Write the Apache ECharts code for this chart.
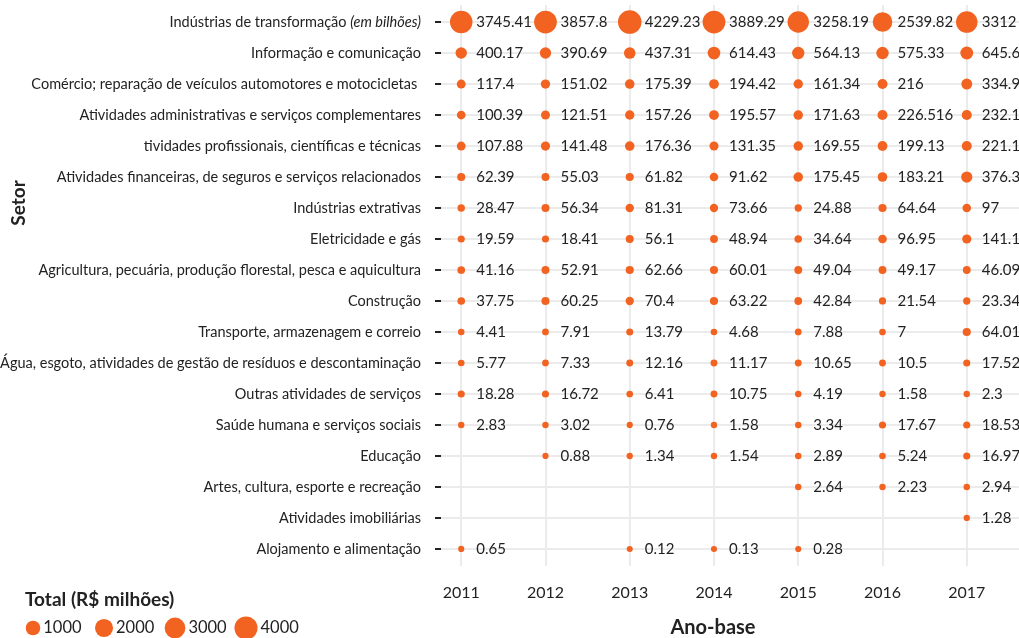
<!DOCTYPE html>
<html>
<head>
<meta charset="utf-8">
<script src="https://cdn.jsdelivr.net/npm/echarts@6/dist/echarts.min.js"></script>
<style>
  html, body { margin: 0; padding: 0; background: #ffffff; }
  #chart { width: 1019px; height: 638px; }
</style>
</head>
<body>
<div id="chart"></div>
<script>
// Ano-base (x) and setores (y, top to bottom)
const years = [2011, 2012, 2013, 2014, 2015, 2016, 2017];
const sectors = [
  'Indústrias de transformação',
  'Informação e comunicação',
  'Comércio; reparação de veículos automotores e motocicletas ',
  'Atividades administrativas e serviços complementares',
  'tividades profissionais, científicas e técnicas',
  'Atividades financeiras, de seguros e serviços relacionados',
  'Indústrias extrativas',
  'Eletricidade e gás',
  'Agricultura, pecuária, produção florestal, pesca e aquicultura',
  'Construção',
  'Transporte, armazenagem e correio',
  'Água, esgoto, atividades de gestão de resíduos e descontaminação',
  'Outras atividades de serviços',
  'Saúde humana e serviços sociais',
  'Educação',
  'Artes, cultura, esporte e recreação',
  'Atividades imobiliárias',
  'Alojamento e alimentação'
];

// Total (R$ milhões) per setor, one array per ano-base (null = sem valor)
const v2011 = [3745.41, 400.17, 117.4, 100.39, 107.88, 62.39, 28.47, 19.59, 41.16, 37.75, 4.41, 5.77, 18.28, 2.83, null, null, null, 0.65];
const v2012 = [3857.8, 390.69, 151.02, 121.51, 141.48, 55.03, 56.34, 18.41, 52.91, 60.25, 7.91, 7.33, 16.72, 3.02, 0.88, null, null, null];
const v2013 = [4229.23, 437.31, 175.39, 157.26, 176.36, 61.82, 81.31, 56.1, 62.66, 70.4, 13.79, 12.16, 6.41, 0.76, 1.34, null, null, 0.12];
const v2014 = [3889.29, 614.43, 194.42, 195.57, 131.35, 91.62, 73.66, 48.94, 60.01, 63.22, 4.68, 11.17, 10.75, 1.58, 1.54, null, null, 0.13];
const v2015 = [3258.19, 564.13, 161.34, 171.63, 169.55, 175.45, 24.88, 34.64, 49.04, 42.84, 7.88, 10.65, 4.19, 3.34, 2.89, 2.64, null, 0.28];
const v2016 = [2539.82, 575.33, 216, 226.516, 199.13, 183.21, 64.64, 96.95, 49.17, 21.54, 7, 10.5, 1.58, 17.67, 5.24, 2.23, null, null];
const v2017 = [3312, 645.6, 334.9, 232.1, 221.1, 376.3, 97, 141.1, 46.09, 23.34, 64.01, 17.52, 2.3, 18.53, 16.97, 2.94, 1.28, null];
const valuesByYear = [v2011, v2012, v2013, v2014, v2015, v2016, v2017];

// Size legend breaks
const legendValues = [1000, 2000, 3000, 4000];

const FONT = 'Lato, "Noto Sans", sans-serif';
const ORANGE = '#F26322';
const INK = '#222222';

function bubbleSize(v) {
  return 6 + 0.27 * Math.sqrt(v);
}

const points = [];
valuesByYear.forEach((arr, j) => {
  arr.forEach((v, i) => {
    if (v !== null) points.push([years[j], i, v]);
  });
});

const rowIdx = sectors.map((_, i) => i);

const chart = echarts.init(document.getElementById('chart'), null, { renderer: 'canvas' });

chart.setOption({
  animation: false,
  backgroundColor: '#ffffff',
  grid: [
    { left: 441, right: 0, top: 5, bottom: 72, containLabel: false, outerBoundsMode: 'none' },
    { left: 0, width: 281.5, top: 613, height: 30, containLabel: false, outerBoundsMode: 'none' }
  ],
  xAxis: [
    {
      type: 'value',
      gridIndex: 0,
      min: 2010.76,
      max: 2017.62,
      offset: 5,
      axisLine: { show: false },
      axisTick: {
        show: true,
        customValues: years,
        length: 4,
        lineStyle: { color: INK, width: 2 }
      },
      axisLabel: {
        customValues: years,
        margin: 14,
        fontFamily: FONT,
        fontSize: 16,
        color: INK,
        formatter: (v) => String(v)
      },
      splitLine: { show: true, lineStyle: { color: '#EBEBEB', width: 2 } }
    },
    { type: 'value', gridIndex: 1, min: -0.465, max: 3.5, show: false }
  ],
  yAxis: [
    {
      type: 'value',
      gridIndex: 0,
      inverse: true,
      min: -0.55,
      max: 17.55,
      axisLine: { show: false },
      axisTick: {
        show: true,
        customValues: rowIdx,
        length: 6,
        lineStyle: { color: INK, width: 2 }
      },
      axisLabel: {
        customValues: rowIdx,
        margin: 20,
        fontFamily: FONT,
        fontSize: 14.5,
        color: INK,
        formatter: (v) => {
          const i = Math.round(v);
          return i === 0 ? sectors[0] + ' {i|(em bilhões)}' : sectors[i];
        },
        rich: {
          i: { fontStyle: 'italic', fontFamily: FONT, fontSize: 14.5, color: INK }
        }
      },
      splitLine: { show: true, lineStyle: { color: '#EBEBEB', width: 2 } }
    },
    { type: 'value', gridIndex: 1, min: -1, max: 1, show: false }
  ],
  series: [
    {
      type: 'scatter',
      xAxisIndex: 0,
      yAxisIndex: 0,
      data: points,
      symbolSize: (d) => bubbleSize(d[2]),
      itemStyle: { color: ORANGE, opacity: 1 },
      label: {
        show: true,
        position: 'inside',
        align: 'left',
        offset: [15, 0],
        fontFamily: FONT,
        fontSize: 15,
        color: INK,
        formatter: (p) => String(p.value[2])
      },
      emphasis: { disabled: true }
    },
    {
      type: 'scatter',
      xAxisIndex: 1,
      yAxisIndex: 1,
      data: legendValues.map((v, i) => [i, 0, v]),
      symbolSize: (d) => bubbleSize(d[2]),
      itemStyle: { color: ORANGE, opacity: 1 },
      label: {
        show: true,
        position: 'right',
        distance: 3,
        fontFamily: FONT,
        fontSize: 16.5,
        color: INK,
        formatter: (p) => String(p.value[2])
      },
      emphasis: { disabled: true }
    }
  ],
  graphic: [
    {
      type: 'text',
      x: 19,
      y: 203,
      rotation: Math.PI / 2,
      style: {
        text: 'Setor',
        font: 'bold 19px ' + FONT,
        fill: INK,
        align: 'center',
        verticalAlign: 'middle'
      }
    },
    {
      type: 'text',
      x: 713,
      y: 628,
      style: {
        text: 'Ano-base',
        font: 'bold 20px ' + FONT,
        fill: INK,
        align: 'center',
        verticalAlign: 'middle'
      }
    },
    {
      type: 'text',
      x: 25,
      y: 600,
      style: {
        text: 'Total (R$ milhões)',
        font: 'bold 19px ' + FONT,
        fill: INK,
        align: 'left',
        verticalAlign: 'middle'
      }
    }
  ]
});
</script>
</body>
</html>
